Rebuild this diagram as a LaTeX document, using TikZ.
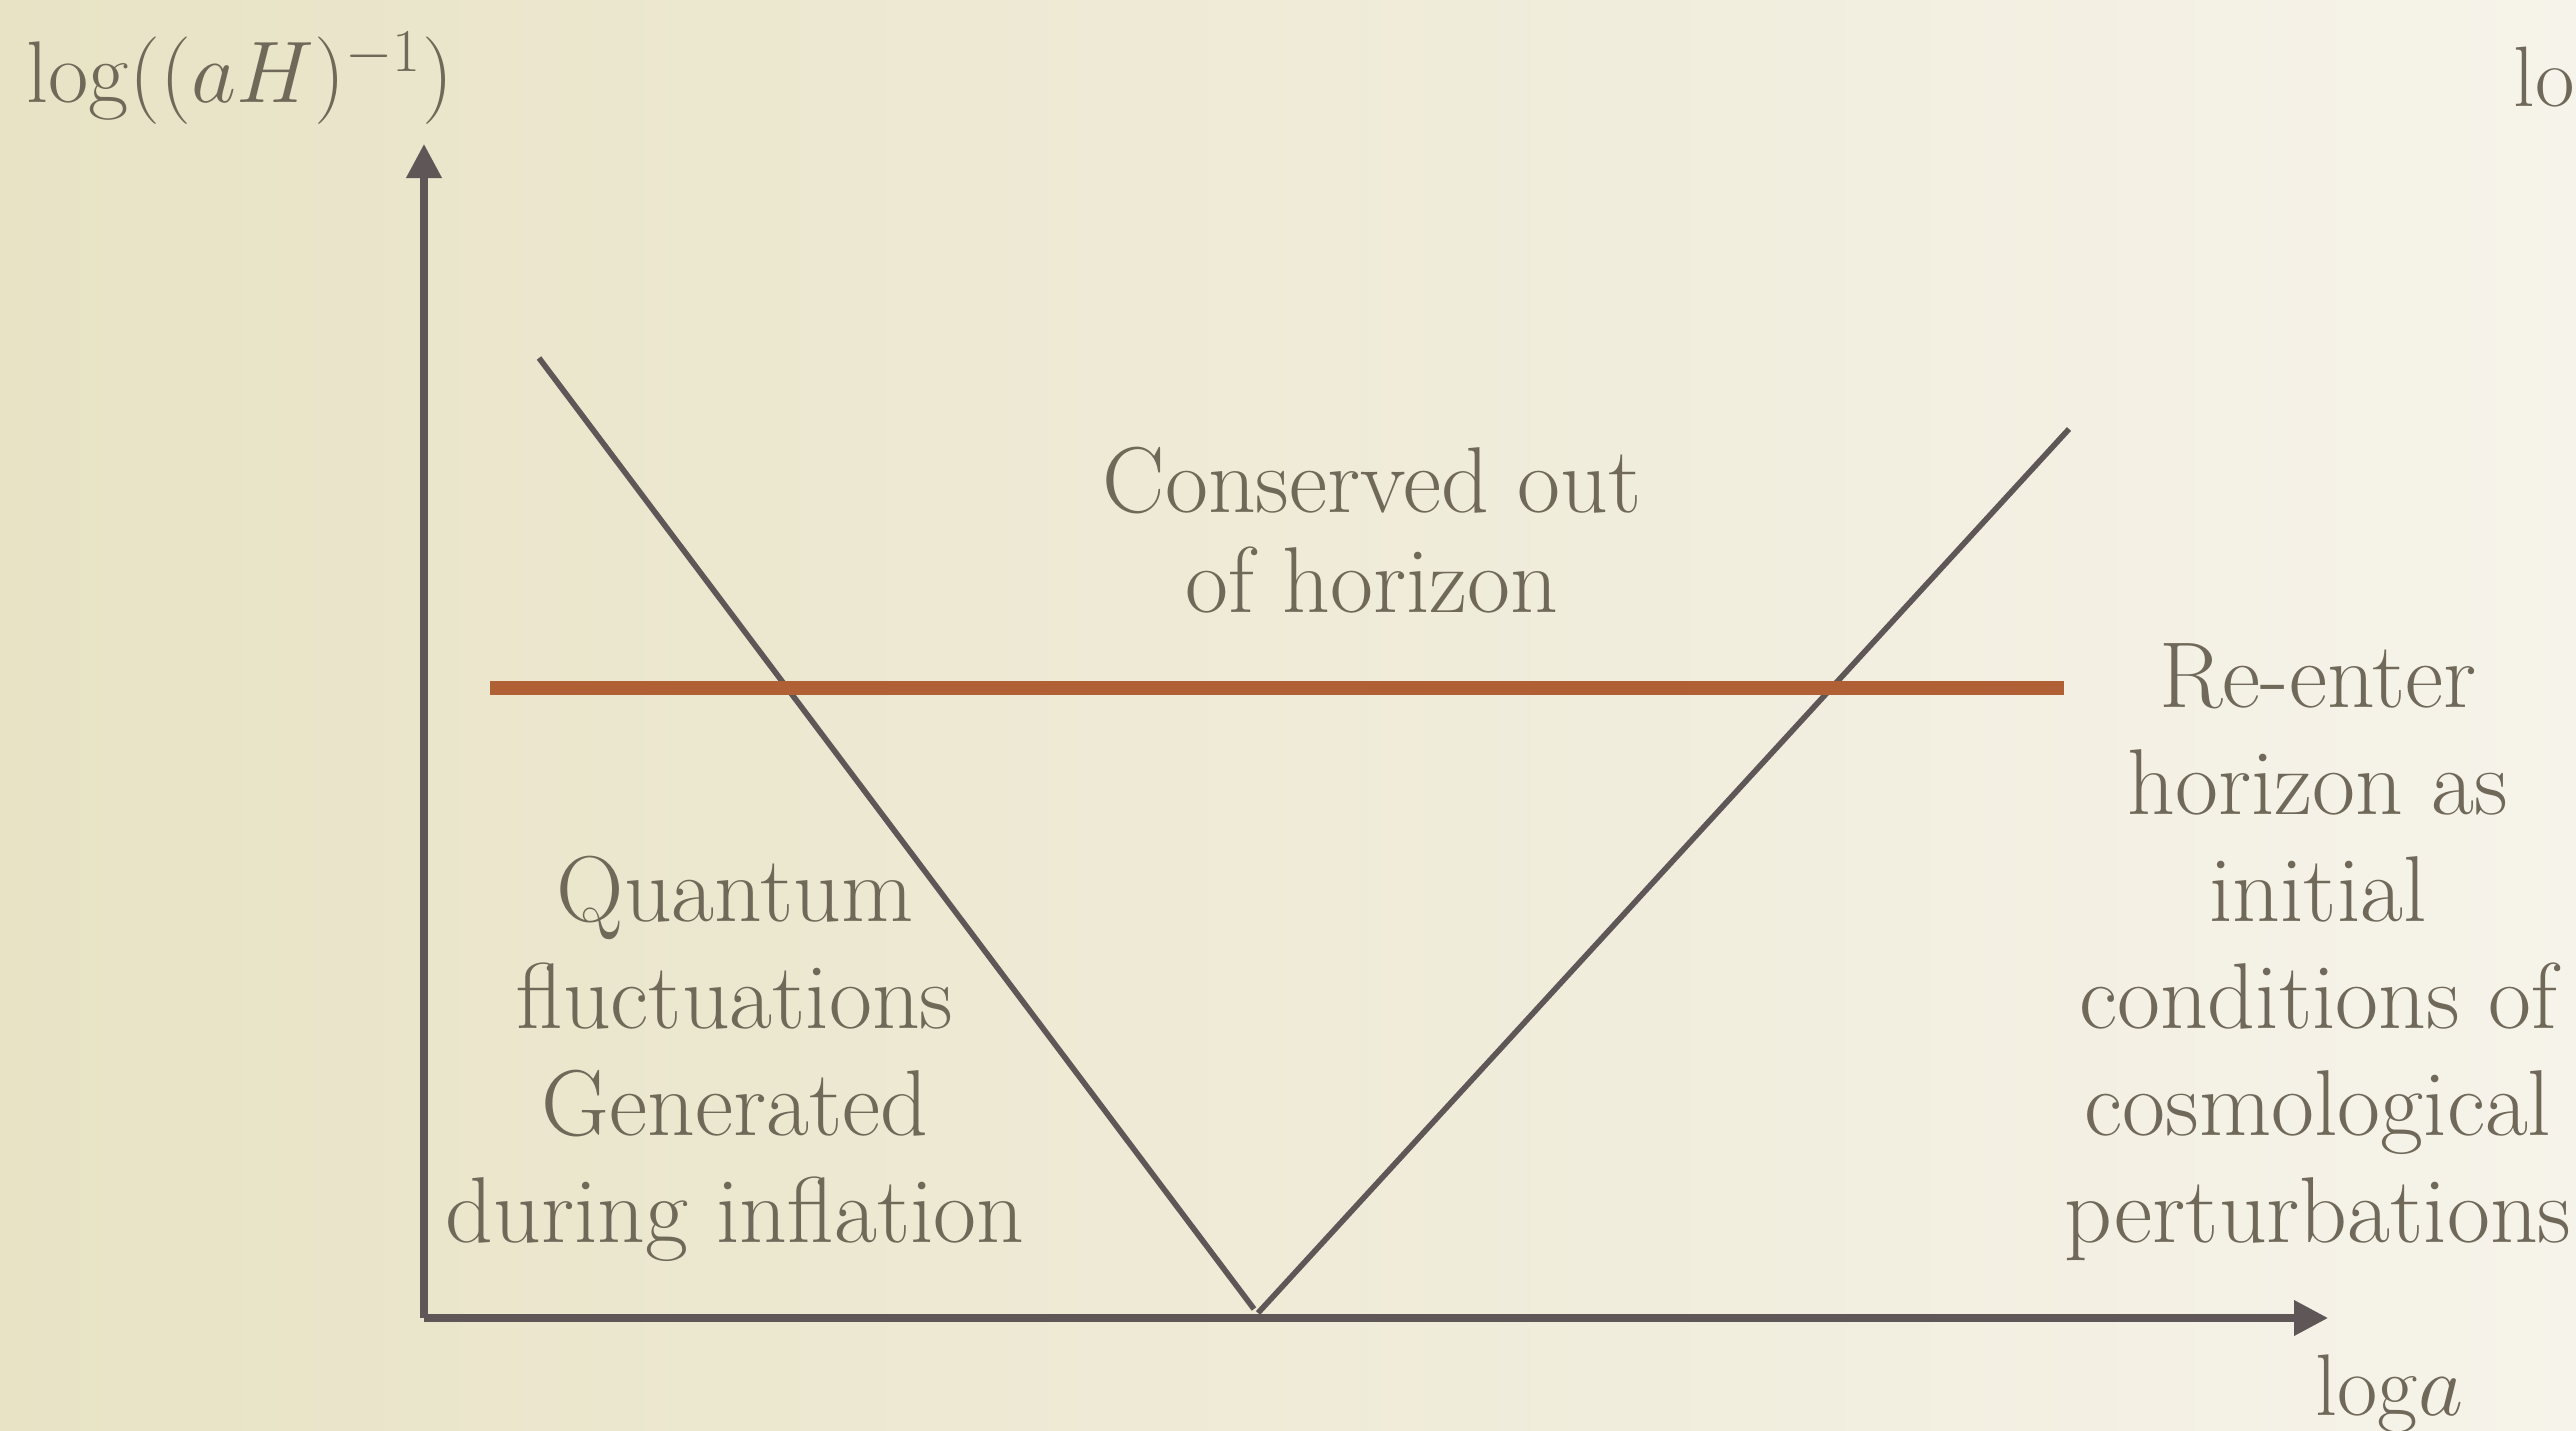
\documentclass[tikz,border=0pt]{standalone}
\usepackage{amsmath,amssymb}
\usepackage{tikz}
\usetikzlibrary{arrows.meta,positioning}
\usepackage{xcolor}
\definecolor{bgleft}{RGB}{232,227,197}
\definecolor{bgright}{RGB}{246,243,234}
\definecolor{axisgrey}{RGB}{94,86,87}
\definecolor{inkbrown}{RGB}{112,105,89}
\definecolor{horizon}{RGB}{176,96,52}

\begin{document}
\begin{tikzpicture}[x=0.01cm, y=-0.01cm,
      axis/.style={draw=axisgrey, line width=2pt, -{Triangle[length=0.34cm,width=0.34cm]}},
      hubble/.style={draw=axisgrey, line width=1.6pt},
      lbl/.style={inner sep=0pt, text=inkbrown, font=\fontsize{24.4}{30.4}\selectfont, align=center, anchor=base},
      blurb/.style={lbl, font=\fontsize{26.6}{30.4}\selectfont}]
    \useasboundingbox (0,0) rectangle (2576,1431);
    \clip (0,0) rectangle (2576,1431);
    \shade[left color=bgleft, right color=bgright] (0,0) rectangle (2576,1431);

    \coordinate (orig) at (424,1318);
    \coordinate (ytip) at (424,144);
    \coordinate (xtip) at (2328,1318);
    \draw[axis] (orig) -- (ytip);
    \draw[axis] (orig) -- (xtip);

    \coordinate (infl0) at (539,358);
    \coordinate (infl1) at (1254,1309);
    \coordinate (rad0) at (1258,1313);
    \coordinate (rad1) at (2069,429);
    \draw[hubble] (infl0) -- (infl1);
    \draw[hubble] (rad0) -- (rad1);

    \coordinate (kL) at (490,688);
    \coordinate (kR) at (2064,688);
    \draw[horizon, line width=4.2pt] (kL) -- (kR);

    \node[lbl] (ylab) at (240,103) {$\log((aH)^{-1})$};
    \node[lbl, anchor=base west] (xlab) at (2315,1415) {$\mathrm{log}a$};
    \node[lbl, anchor=base west] (ylab2) at (2513,107) {lo};

    % base anchor sits on the last line
    \node[blurb, font=\fontsize{26.6}{28.5}\selectfont] (outside) at (1372,613) {Conserved out\\of horizon};
    \node[blurb] (quantum) at (735,1242) {Quantum\\fluctuations\\Generated\\during inflation};
    \node[blurb] (reenter) at (2318,1242) {Re-enter\\horizon as\\initial\\conditions of\\cosmological\\perturbations};
  \end{tikzpicture}
\end{document}
